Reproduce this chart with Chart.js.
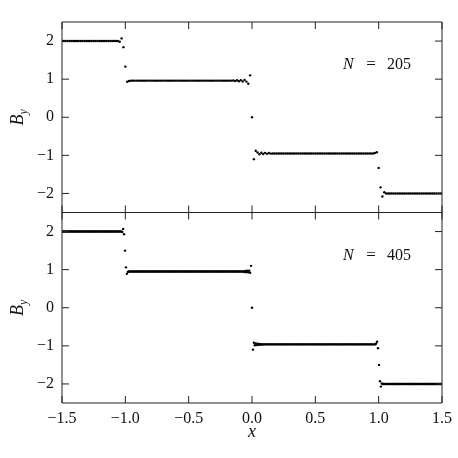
<!DOCTYPE html>
<html lang="en">
<head>
  <meta charset="UTF-8" />
  <title>B_y profiles, N = 205 and N = 405</title>
  <script src="https://cdn.jsdelivr.net/npm/chart.js"></script>
  <style>
    body { margin: 0; background: #fff; }
    #wrap { position: relative; width: 458px; height: 458px; }
  </style>
</head>
<body>
  <div id="wrap"><canvas id="byChart" width="458" height="458"></canvas></div>

  <script>
    // axis ticks
    const xTicks = [-1.5, -1.0, -0.5, 0.0, 0.5, 1.0, 1.5];
    const yTicks = [-2, -1, 0, 1, 2];
    const panelLabels = ['N = 205', 'N = 405'];

    // B_y values, one per grid cell (N = 205)
    const byTop = [
      2, 2, 2, 2, 2, 2, 2, 2, 2, 2,
      2, 2, 2, 2, 2, 2, 2, 2, 2, 2,
      2, 2, 2, 2, 2, 2, 2, 2, 2, 2,
      2,
      1.98, 2.07, 1.84, 1.33, 0.93, 0.95,
      0.96, 0.96, 0.96, 0.96, 0.96, 0.96, 0.96, 0.96, 0.96, 0.96,
      0.96, 0.96, 0.96, 0.96, 0.96, 0.96, 0.96, 0.96, 0.96, 0.96,
      0.96, 0.96, 0.96, 0.96, 0.96, 0.96, 0.96, 0.96, 0.96, 0.96,
      0.96, 0.96, 0.96, 0.96, 0.96, 0.96, 0.96, 0.96, 0.96, 0.96,
      0.96, 0.96, 0.96, 0.96, 0.96, 0.96, 0.96, 0.96, 0.96, 0.96,
      0.96, 0.96, 0.96, 0.96, 0.96,
      0.965, 0.95, 0.97, 0.945, 0.975, 0.94, 0.98, 0.935,
      0.88, 1.10, 0, -1.10, -0.88,
      -0.925, -0.97, -0.93, -0.965, -0.935, -0.96, -0.94, -0.955,
      -0.95, -0.95, -0.95, -0.95, -0.95, -0.95, -0.95, -0.95, -0.95, -0.95,
      -0.95, -0.95, -0.95, -0.95, -0.95, -0.95, -0.95, -0.95, -0.95, -0.95,
      -0.95, -0.95, -0.95, -0.95, -0.95, -0.95, -0.95, -0.95, -0.95, -0.95,
      -0.95, -0.95, -0.95, -0.95, -0.95, -0.95, -0.95, -0.95, -0.95, -0.95,
      -0.95, -0.95, -0.95, -0.95, -0.95, -0.95, -0.95, -0.95, -0.95, -0.95,
      -0.95, -0.95, -0.95, -0.95, -0.95,
      -0.94, -0.92, -1.33, -1.84, -2.08, -1.97,
      -2, -2, -2, -2, -2, -2, -2, -2, -2, -2,
      -2, -2, -2, -2, -2, -2, -2, -2, -2, -2,
      -2, -2, -2, -2, -2, -2, -2, -2, -2, -2,
      -2
    ];

    // same for N = 405
    const byBottom = [
      2, 2, 2, 2, 2, 2, 2, 2, 2, 2,
      2, 2, 2, 2, 2, 2, 2, 2, 2, 2,
      2, 2, 2, 2, 2, 2, 2, 2, 2, 2,
      2, 2, 2, 2, 2, 2, 2, 2, 2, 2,
      2, 2, 2, 2, 2, 2, 2, 2, 2, 2,
      2, 2, 2, 2, 2, 2, 2, 2, 2, 2,
      2, 2, 2, 2,
      1.99, 2.07, 1.93, 1.5, 1.06, 0.89, 0.94,
      0.95, 0.95, 0.95, 0.95, 0.95, 0.95, 0.95, 0.95, 0.95, 0.95,
      0.95, 0.95, 0.95, 0.95, 0.95, 0.95, 0.95, 0.95, 0.95, 0.95,
      0.95, 0.95, 0.95, 0.95, 0.95, 0.95, 0.95, 0.95, 0.95, 0.95,
      0.95, 0.95, 0.95, 0.95, 0.95, 0.95, 0.95, 0.95, 0.95, 0.95,
      0.95, 0.95, 0.95, 0.95, 0.95, 0.95, 0.95, 0.95, 0.95, 0.95,
      0.95, 0.95, 0.95, 0.95, 0.95, 0.95, 0.95, 0.95, 0.95, 0.95,
      0.95, 0.95, 0.95, 0.95, 0.95, 0.95, 0.95, 0.95, 0.95, 0.95,
      0.95, 0.95, 0.95, 0.95, 0.95, 0.95, 0.95, 0.95, 0.95, 0.95,
      0.95, 0.95, 0.95, 0.95, 0.95, 0.95, 0.95, 0.95, 0.95, 0.95,
      0.95, 0.95, 0.95, 0.95, 0.95, 0.95, 0.95, 0.95, 0.95, 0.95,
      0.95, 0.95, 0.95, 0.95, 0.95, 0.95, 0.95, 0.95, 0.95, 0.95,
      0.95, 0.95, 0.95, 0.95, 0.95, 0.95, 0.95, 0.95, 0.95, 0.95,
      0.955, 0.945, 0.96, 0.94, 0.965, 0.935, 0.97, 0.93, 0.975,
      0.92, 1.10, 0, -1.10, -0.92,
      -0.985, -0.94, -0.98, -0.945, -0.975, -0.95, -0.97, -0.955, -0.965,
      -0.96, -0.96, -0.96, -0.96, -0.96, -0.96, -0.96, -0.96, -0.96, -0.96,
      -0.96, -0.96, -0.96, -0.96, -0.96, -0.96, -0.96, -0.96, -0.96, -0.96,
      -0.96, -0.96, -0.96, -0.96, -0.96, -0.96, -0.96, -0.96, -0.96, -0.96,
      -0.96, -0.96, -0.96, -0.96, -0.96, -0.96, -0.96, -0.96, -0.96, -0.96,
      -0.96, -0.96, -0.96, -0.96, -0.96, -0.96, -0.96, -0.96, -0.96, -0.96,
      -0.96, -0.96, -0.96, -0.96, -0.96, -0.96, -0.96, -0.96, -0.96, -0.96,
      -0.96, -0.96, -0.96, -0.96, -0.96, -0.96, -0.96, -0.96, -0.96, -0.96,
      -0.96, -0.96, -0.96, -0.96, -0.96, -0.96, -0.96, -0.96, -0.96, -0.96,
      -0.96, -0.96, -0.96, -0.96, -0.96, -0.96, -0.96, -0.96, -0.96, -0.96,
      -0.96, -0.96, -0.96, -0.96, -0.96, -0.96, -0.96, -0.96, -0.96, -0.96,
      -0.96, -0.96, -0.96, -0.96, -0.96, -0.96, -0.96, -0.96, -0.96, -0.96,
      -0.96, -0.96, -0.96, -0.96, -0.96, -0.96, -0.96, -0.96, -0.96, -0.96,
      -0.94, -0.89, -1.06, -1.5, -1.93, -2.07, -1.99,
      -2, -2, -2, -2, -2, -2, -2, -2, -2, -2,
      -2, -2, -2, -2, -2, -2, -2, -2, -2, -2,
      -2, -2, -2, -2, -2, -2, -2, -2, -2, -2,
      -2, -2, -2, -2, -2, -2, -2, -2, -2, -2,
      -2, -2, -2, -2, -2, -2, -2, -2, -2, -2,
      -2, -2, -2, -2, -2, -2, -2, -2, -2, -2,
      -2, -2, -2, -2
    ];

    // cell centres: uniform grid over [-1.5, 1.5]
    const cells = n => Array.from({ length: n }, (_, i) => -1.5 + 3 * i / (n - 1));
    const xTop = cells(byTop.length);
    const xBottom = cells(byBottom.length);

    const SERIF = "'Liberation Serif', 'DejaVu Serif', serif";
    Chart.defaults.font.family = SERIF;
    Chart.defaults.color = '#111';

    const fmt = (v, d) => (v < 0 ? '\u2212' : '') + Math.abs(v).toFixed(d);

    function yAxis() {
      return {
        type: 'linear', position: 'left', stack: 'panels', stackWeight: 1,
        min: -2.5, max: 2.5,
        afterBuildTicks: s => { s.ticks = yTicks.map(v => ({ value: v })); },
        afterFit: s => { s.width = 62; },
        ticks: { callback: v => fmt(v, 0), padding: 8, font: { size: 16 } },
        grid: { display: false, drawTicks: false },
        border: { display: false }
      };
    }

    // box, panel divider and inward ticks on every side
    const framePlugin = {
      id: 'frame',
      afterDatasetsDraw(chart) {
        const { ctx, chartArea: a, scales } = chart;
        const sx = scales.x, mid = scales.yTop.bottom;
        const L = 7;
        ctx.save();
        ctx.strokeStyle = '#222';
        ctx.lineWidth = 1;
        ctx.beginPath();
        ctx.rect(a.left, a.top, a.right - a.left, a.bottom - a.top);
        ctx.moveTo(a.left, mid); ctx.lineTo(a.right, mid);
        xTicks.forEach(v => {
          const px = sx.getPixelForValue(v);
          ctx.moveTo(px, a.top); ctx.lineTo(px, a.top + L);
          ctx.moveTo(px, mid - L); ctx.lineTo(px, mid + L);
          ctx.moveTo(px, a.bottom); ctx.lineTo(px, a.bottom - L);
        });
        [scales.yTop, scales.yBottom].forEach(s => yTicks.forEach(v => {
          const py = s.getPixelForValue(v);
          ctx.moveTo(a.left, py); ctx.lineTo(a.left + L, py);
          ctx.moveTo(a.right, py); ctx.lineTo(a.right - L, py);
        }));
        ctx.stroke();
        ctx.restore();
      },
      afterDraw(chart) {
        const { ctx, scales } = chart;
        [scales.yTop, scales.yBottom].forEach((s, k) => {
          // y label B_y
          const cy = (s.top + s.bottom) / 2;
          ctx.save();
          ctx.fillStyle = '#111';
          ctx.translate(23, cy);
          ctx.rotate(-Math.PI / 2);
          ctx.font = 'italic 18px ' + SERIF;
          const wB = ctx.measureText('B').width;
          ctx.font = 'italic 12px ' + SERIF;
          const wy = ctx.measureText('y').width;
          ctx.textBaseline = 'alphabetic';
          ctx.textAlign = 'left';
          ctx.font = 'italic 18px ' + SERIF;
          ctx.fillText('B', -(wB + wy) / 2, 0);
          ctx.font = 'italic 12px ' + SERIF;
          ctx.fillText('y', -(wB + wy) / 2 + wB, 4);
          ctx.restore();

          // N = ... label
          const parts = panelLabels[k].split(' = ');
          const base = s.top + 47;
          ctx.save();
          ctx.fillStyle = '#111';
          ctx.textBaseline = 'alphabetic';
          ctx.font = 'italic 16px ' + SERIF;
          ctx.textAlign = 'left';
          ctx.fillText(parts[0], 343, base);
          ctx.font = '17px ' + SERIF;
          ctx.textAlign = 'center';
          ctx.fillText('=', 371, base);
          ctx.font = '16px ' + SERIF;
          ctx.textAlign = 'right';
          ctx.fillText(parts[1], 411, base);
          ctx.restore();
        });
      }
    };

    const pointStyle = {
      showLine: false, pointRadius: 1.2, pointBorderWidth: 0,
      pointBackgroundColor: '#000', pointHoverRadius: 1.2
    };

    new Chart(document.getElementById('byChart'), {
      type: 'scatter',
      data: {
        datasets: [
          Object.assign({ label: panelLabels[0], yAxisID: 'yTop',
            data: byTop.map((v, i) => ({ x: xTop[i], y: v })) }, pointStyle),
          Object.assign({ label: panelLabels[1], yAxisID: 'yBottom',
            data: byBottom.map((v, i) => ({ x: xBottom[i], y: v })) }, pointStyle)
        ]
      },
      options: {
        responsive: false,
        animation: false,
        events: [],
        layout: { padding: { top: 22, right: 14, left: 0, bottom: 0 } },
        plugins: { legend: { display: false }, tooltip: { enabled: false } },
        scales: {
          x: {
            type: 'linear', position: 'bottom', min: -1.5, max: 1.5,
            afterBuildTicks: s => { s.ticks = xTicks.map(v => ({ value: v })); },
            afterFit: s => { s.height = 55; },
            ticks: { callback: v => fmt(v, 1), padding: 6, font: { size: 16 }, maxRotation: 0 },
            grid: { display: false, drawTicks: false },
            border: { display: false },
            title: { display: true, text: 'x', font: { size: 18, style: 'italic' },
                     padding: { top: 0, bottom: 15 } }
          },
          // stacked axes: the one listed last is placed on top
          yBottom: yAxis(),
          yTop: yAxis()
        }
      },
      plugins: [framePlugin]
    });
  </script>
</body>
</html>
